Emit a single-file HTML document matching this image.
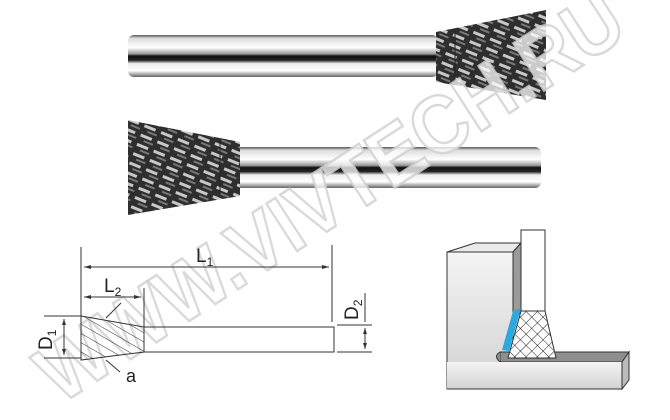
<!DOCTYPE html>
<html><head><meta charset="utf-8"><style>
html,body{margin:0;padding:0;background:#fff;width:670px;height:420px;overflow:hidden}
svg{display:block}
</style></head><body>
<svg width="670" height="420" viewBox="0 0 670 420" xmlns="http://www.w3.org/2000/svg">
<defs>
<linearGradient id="shank" x1="0" y1="0" x2="0" y2="1">
<stop offset="0" stop-color="#555"/><stop offset="0.08" stop-color="#ddd"/><stop offset="0.3" stop-color="#fff"/>
<stop offset="0.45" stop-color="#999"/><stop offset="0.5" stop-color="#111"/><stop offset="0.6" stop-color="#222"/>
<stop offset="0.68" stop-color="#eee"/><stop offset="0.85" stop-color="#fff"/><stop offset="1" stop-color="#666"/>
</linearGradient>
<pattern id="knurl" width="18" height="10" patternUnits="userSpaceOnUse" patternTransform="rotate(22)">
<rect width="18" height="10" fill="#2e2e2e"/>
<rect x="1" y="1" width="12" height="3" fill="#c8c8c8"/>
<rect x="6" y="6" width="10" height="2" fill="#777"/>
</pattern>
<pattern id="hatch" width="8" height="8" patternUnits="userSpaceOnUse" patternTransform="rotate(30)">
<line x1="0" y1="0" x2="8" y2="0" stroke="#333" stroke-width="1"/>
</pattern>
<pattern id="xh" width="8" height="8" patternUnits="userSpaceOnUse" patternTransform="rotate(45)">
<rect width="8" height="8" fill="#fff"/>
<line x1="0" y1="0" x2="8" y2="0" stroke="#222" stroke-width="1"/>
<line x1="0" y1="0" x2="0" y2="8" stroke="#222" stroke-width="1"/>
</pattern>
<linearGradient id="wall" x1="0" y1="0" x2="0" y2="1"><stop offset="0" stop-color="#f4f4f4"/><stop offset="1" stop-color="#d2d2d2"/></linearGradient>
</defs>

<!-- top burr -->
<rect x="128" y="35" width="310" height="42" rx="6" fill="url(#shank)"/>
<polygon points="436,32 546,10 546,100 436,82" fill="url(#knurl)"/>
<line x1="455" y1="30" x2="455" y2="84" stroke="#222" stroke-width="1"/>
<!-- bottom burr -->
<rect x="235" y="147" width="306" height="41" rx="6" fill="url(#shank)"/>
<polygon points="128,120 240,142 240,196 128,215" fill="url(#knurl)"/>
<line x1="220" y1="140" x2="220" y2="198" stroke="#222" stroke-width="1"/>

<!-- watermark -->
<text x="0" y="0" transform="translate(60,405) rotate(-33)" textLength="680" lengthAdjust="spacingAndGlyphs" font-family="Liberation Sans, sans-serif" font-size="82" font-weight="bold" fill="#fff" fill-opacity="0.75" stroke="#cfcfcf" stroke-width="2.5" stroke-opacity="0.8">WWW.VIVTECH.RU</text>

<!-- drawing -->
<g stroke="#333" stroke-width="1" fill="none">
<line x1="81" y1="247" x2="81" y2="360"/>
<line x1="332" y1="245" x2="332" y2="322"/>
<line x1="84" y1="267" x2="329" y2="267"/>
<line x1="144" y1="288" x2="144" y2="327"/>
<line x1="84" y1="297" x2="141" y2="297"/>
<polygon points="81,316 144,327 144,352 81,360" fill="url(#hatch)"/>
<rect x="144" y="327" width="190" height="25"/>
<line x1="44" y1="316" x2="81" y2="316"/>
<line x1="44" y1="358" x2="81" y2="358"/>
<line x1="64" y1="319" x2="64" y2="355"/>
<line x1="337" y1="325" x2="372" y2="325"/>
<line x1="337" y1="352" x2="372" y2="352"/>
<line x1="365" y1="328" x2="365" y2="349"/>
<line x1="365" y1="293" x2="365" y2="322"/>
<line x1="121" y1="303" x2="106" y2="318"/>
<line x1="106" y1="360" x2="120" y2="372"/>
</g>
<g fill="#333">
<polygon points="84,267 91,265 91,269"/><polygon points="329,267 322,265 322,269"/>
<polygon points="84,297 91,295 91,299"/><polygon points="141,297 134,295 134,299"/>
<polygon points="64,319 62,325 66,325"/><polygon points="64,355 62,349 66,349"/>
<polygon points="365,328 363,334 367,334"/><polygon points="365,349 363,343 367,343"/>
</g>
<g font-family="Liberation Sans, sans-serif" fill="#222">
<text x="196" y="262" font-size="19">L<tspan font-size="12" dy="4">1</tspan></text>
<text x="104" y="292" font-size="19">L<tspan font-size="12" dy="4">2</tspan></text>
<text x="126" y="382" font-size="18">a</text>
<text transform="translate(52,350) rotate(-90)" font-size="19">D<tspan font-size="12" dy="4">1</tspan></text>
<text transform="translate(358,320) rotate(-90)" font-size="19">D<tspan font-size="12" dy="4">2</tspan></text>
</g>

<!-- right diagram -->
<g stroke="#333" stroke-width="1">
<polygon points="447,252 475,243 521,243 513,252" fill="#eaeaea"/>
<polygon points="513,252 521,243 521,312 513,320" fill="#9a9a9a"/>
<rect x="447" y="252" width="66" height="137" fill="url(#wall)"/>
<polygon points="500,352 629,352 622,362 500,362" fill="#8e8e8e"/>
<path d="M500,352 Q493,356 500,362" fill="#8e8e8e"/>
<rect x="447" y="362" width="175" height="27" fill="url(#wall)" stroke="none"/>
<line x1="447" y1="389" x2="622" y2="389"/>
<line x1="622" y1="362" x2="622" y2="389"/>
<polygon points="622,362 629,352 629,380 622,389" fill="#bbb"/>
<line x1="513" y1="252" x2="513" y2="352"/>
<rect x="521" y="230" width="24" height="81" fill="#fff"/>
<polygon points="521,311 545,311 556,358 508,358" fill="url(#xh)"/>
</g>
<polygon points="513,311 521,308 509,351 502,350" fill="#2aa8e0"/>
</svg>
</body></html>
